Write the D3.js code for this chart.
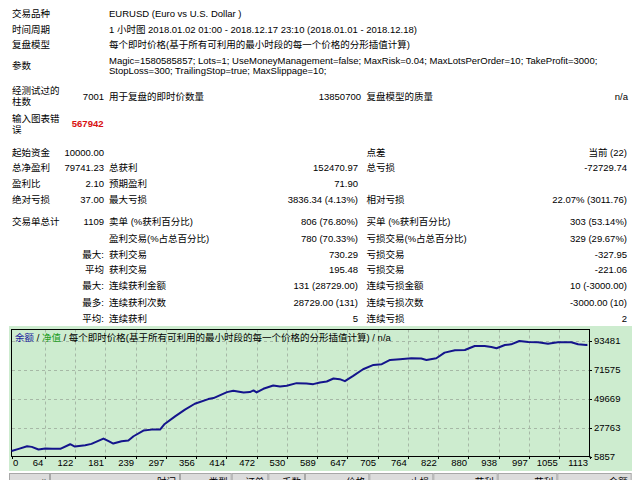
<!DOCTYPE html>
<html>
<head>
<meta charset="utf-8">
<script src="https://cdn.jsdelivr.net/npm/d3@7"></script>
<style>
  body { margin: 0; background: #fff; }
  svg text { font-family: "Liberation Sans", "Noto Sans CJK SC", sans-serif; font-size: 9.5px; fill: #000; }
</style>
</head>
<body>
<div id="chart"></div>
<script>
// Balance curve (trade number -> balance)
const tradeNo = [0, 14, 30, 39, 52, 65, 78, 94, 113, 122, 142, 154, 177, 187, 196, 212, 225, 235, 254, 270,
  286, 295, 315, 334, 353, 379, 389, 415, 427, 447, 459, 466, 472, 485, 504, 517, 530, 549, 568, 581,
  594, 607, 620, 632, 642, 658, 677, 697, 713, 729, 748, 770, 789, 799, 818, 834, 854, 873, 892, 911,
  924, 934, 950, 962, 978, 995, 1014, 1033, 1052, 1078, 1091, 1107, 1109];
const balance = [10000, 11650, 13660, 13160, 11150, 11900, 11650, 11650, 15170, 13410, 14420, 15430, 19450, 17440, 15680, 17440, 17940, 21220, 25500, 26250,
  26250, 30540, 36320, 41360, 45890, 49420, 50180, 54710, 55710, 54460, 54710, 55960, 54460, 57220, 59740, 58990, 59490, 61510, 61250, 60750,
  62010, 62770, 65030, 64520, 63020, 67040, 72080, 75350, 75860, 79130, 79640, 80390, 80140, 79130, 80390, 84670, 86430, 86690, 89710, 89710,
  88950, 87950, 90460, 90970, 93480, 92730, 92480, 91470, 92480, 92480, 90970, 90460, 90700];
const xTicks = [0, 64, 122, 181, 239, 297, 356, 414, 472, 530, 589, 647, 705, 764, 822, 880, 938, 997, 1055, 1113];
const yTicks = [5857, 27763, 49669, 71575, 93481];
const headerCols = ["#", "时间", "类型", "订单", "手数", "价格", "止损", "获利", "获利", "余额"];

// Report table rows: [labelA, valueB, labelC, valueD, labelE, valueF]
const statRows = [
  ["起始资金", "10000.00", "", "", "点差", "当前 (22)"],
  ["总净盈利", "79741.23", "总获利", "152470.97", "总亏损", "-72729.74"],
  ["盈利比", "2.10", "预期盈利", "71.90", "", ""],
  ["绝对亏损", "37.00", "最大亏损", "3836.34 (4.13%)", "相对亏损", "22.07% (3011.76)"],
  ["交易单总计", "1109", "卖单 (%获利百分比)", "806 (76.80%)", "买单 (%获利百分比)", "303 (53.14%)"],
  ["", "", "盈利交易(%占总百分比)", "780 (70.33%)", "亏损交易(%占总百分比)", "329 (29.67%)"],
  ["", "最大:", "获利交易", "730.29", "亏损交易", "-327.95"],
  ["", "平均", "获利交易", "195.48", "亏损交易", "-221.06"],
  ["", "最大:", "连续获利金额", "131 (28729.00)", "连续亏损金额", "10 (-3000.00)"],
  ["", "最多:", "连续获利次数", "28729.00 (131)", "连续亏损次数", "-3000.00 (10)"],
  ["", "平均:", "连续获利", "5", "连续亏损", "2"]
];
const statY = [152.7, 167.7, 183.3, 200, 221.7, 238.3, 255, 269.3, 286, 302.7, 318.3];

const svg = d3.select("#chart").append("svg")
  .attr("width", 640)
  .attr("height", 480);

function txt(x, y, s, anchor) {
  return svg.append("text")
    .attr("x", x)
    .attr("y", y + 3.4)
    .attr("text-anchor", anchor || "start")
    .text(s);
}

// ---- header part of the report
const colA = 12, colB = 104, colC = 109, colD = 358, colE = 366.5, colF = 627;
txt(colA, 13.3, "交易品种");
txt(colC, 13.3, "EURUSD (Euro vs U.S. Dollar )");
txt(colA, 29.3, "时间周期");
txt(colC, 29.3, "1 小时图 2018.01.02 01:00 - 2018.12.17 23:10 (2018.01.01 - 2018.12.18)");
txt(colA, 45, "复盘模型");
txt(colC, 45, "每个即时价格(基于所有可利用的最小时段的每一个价格的分形插值计算)");
txt(colA, 65.7, "参数");
txt(colC, 61, "Magic=1580585857; Lots=1; UseMoneyManagement=false; MaxRisk=0.04; MaxLotsPerOrder=10; TakeProfit=3000;");
txt(colC, 70.7, "StopLoss=300; TrailingStop=true; MaxSlippage=10;");
txt(colA, 91, "经测试过的");
txt(colA, 101.7, "柱数");
txt(colB, 97, "7001", "end");
txt(colC, 97, "用于复盘的即时价数量");
txt(361, 97, "13850700", "end");
txt(colE, 97, "复盘模型的质量");
txt(628, 97, "n/a", "end");
txt(colA, 118.3, "输入图表错");
txt(colA, 129.3, "误");
txt(103.5, 124, "567942", "end")
  .style("fill", "#d81010")
  .style("font-weight", "bold");

// ---- statistics block
statRows.forEach((r, i) => {
  const y = statY[i];
  if (r[0]) txt(colA, y, r[0]);
  if (r[1]) txt(colB, y, r[1], "end");
  if (r[2]) txt(colC, y, r[2]);
  if (r[3]) txt(colD, y, r[3], "end");
  if (r[4]) txt(colE, y, r[4]);
  if (r[5]) txt(colF, y, r[5], "end");
});

// ---- balance chart
svg.append("rect")
  .attr("x", 9).attr("y", 326)
  .attr("width", 623).attr("height", 145)
  .attr("fill", "#cdeccf");

const x = d3.scaleLinear()
  .domain([0, 1113])
  .range([11.5, 589.5]);
const y = d3.scaleLinear()
  .domain([5857, 93481])
  .range([456.5, 341]);
const plotTop = 329.5;

// grid
svg.append("g").selectAll("line")
  .data(yTicks.slice(1))
  .enter().append("line")
  .attr("x1", 12).attr("x2", 589)
  .attr("y1", d => Math.round(y(d)) + 0.5)
  .attr("y2", d => Math.round(y(d)) + 0.5)
  .attr("stroke", "#a6b8a6")
  .attr("stroke-dasharray", "3,3");

svg.append("g").selectAll("line")
  .data(xTicks.slice(1, -1))
  .enter().append("line")
  .attr("x1", d => Math.round(x(d)) + 0.5)
  .attr("x2", d => Math.round(x(d)) + 0.5)
  .attr("y1", plotTop).attr("y2", 456)
  .attr("stroke", "#a6b8a6")
  .attr("stroke-dasharray", "3,3");

// frame
svg.append("rect")
  .attr("x", 11.5).attr("y", plotTop)
  .attr("width", 578).attr("height", 456.5 - plotTop)
  .attr("fill", "none")
  .attr("stroke", "#000");

// small tick marks
svg.append("g").selectAll("line")
  .data(xTicks)
  .enter().append("line")
  .attr("x1", d => Math.round(x(d)) + 0.5)
  .attr("x2", d => Math.round(x(d)) + 0.5)
  .attr("y1", 456.5).attr("y2", 459)
  .attr("stroke", "#000");
svg.append("g").selectAll("line")
  .data(yTicks)
  .enter().append("line")
  .attr("x1", 589.5).attr("x2", 592)
  .attr("y1", d => Math.round(y(d)) + 0.5)
  .attr("y2", d => Math.round(y(d)) + 0.5)
  .attr("stroke", "#000");

// axis labels
xTicks.forEach((t, i) => {
  if (i === 0) txt(x(t) + 1.5, 463, String(t));
  else txt(x(t) - 1.5, 463, String(t), "end");
});
yTicks.forEach(t => txt(594, y(t), String(t)));

// balance line
const line = d3.line()
  .x((d, i) => x(tradeNo[i]))
  .y(d => y(d));
svg.append("path")
  .datum(balance)
  .attr("d", line)
  .attr("fill", "none")
  .attr("stroke", "#14148c")
  .attr("stroke-width", 2)
  .attr("stroke-linejoin", "round");

// chart title
const title = svg.append("text")
  .attr("x", 15)
  .attr("y", 337.5 + 3.4);
title.append("tspan").style("fill", "#1a1a9c").text("余额");
title.append("tspan").text(" / ");
title.append("tspan").style("fill", "#1c9c1c").text("净值");
title.append("tspan").text(" / 每个即时价格(基于所有可利用的最小时段的每一个价格的分形插值计算) / n/a");

// ---- trade list header (cut off by the window)
const headerEdges = [9, 50, 180, 231.7, 268.3, 305, 369.3, 433.3, 497.7, 557.3, 631.7];
svg.append("g").selectAll("rect")
  .data(headerCols)
  .enter().append("rect")
  .attr("x", (d, i) => headerEdges[i] + 0.5)
  .attr("y", 473.5)
  .attr("width", (d, i) => headerEdges[i + 1] - headerEdges[i] - 1)
  .attr("height", 12)
  .attr("fill", "#dcdcdc")
  .attr("stroke", "#a8a8a8");
headerCols.forEach((h, i) => txt(headerEdges[i + 1] - 4, 481.5, h, "end"));
</script>
</body>
</html>
